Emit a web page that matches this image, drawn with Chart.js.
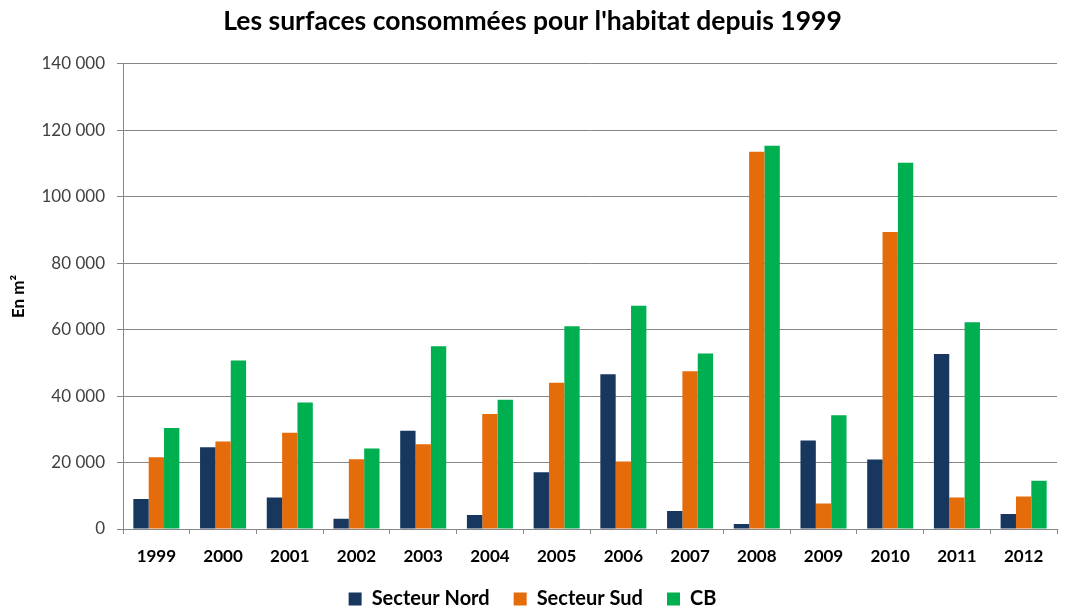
<!DOCTYPE html>
<html>
<head>
<meta charset="utf-8">
<script src="https://cdn.jsdelivr.net/npm/chart.js@4/dist/chart.umd.min.js"></script>
<style>
  body { margin: 0; background: #fff; }
</style>
</head>
<body>
<canvas id="myChart" width="1070" height="609"></canvas>
<script>
// surfaces consommées, en m², par année et par secteur
var years = ['1999','2000','2001','2002','2003','2004','2005','2006','2007','2008','2009','2010','2011','2012'];
var secteurNord = [9000, 24600, 9500, 3100, 29600, 4200, 17100, 46600, 5400, 1500, 26600, 20900, 52700, 4500];
var secteurSud = [21600, 26300, 29000, 21000, 25500, 34600, 44000, 20300, 47500, 113500, 7700, 89400, 9500, 9800];
var cb = [30400, 50700, 38100, 24200, 55000, 38900, 61000, 67200, 52800, 115300, 34200, 110200, 62200, 14500];

var font = "Lato, 'Open Sans', sans-serif";

//thousands separated by a space, like "140 000"
function spaced(v){
  return String(v).replace(/\B(?=(\d{3})+(?!\d))/g, ' ');
}

var ctx = document.getElementById("myChart");
var chart = new Chart(ctx, {
  type: 'bar',
  data: {
    labels: years,
    datasets: [{
      label: 'Secteur Nord',
      data: secteurNord,
      backgroundColor: '#17375E'
    },
    {
      label: 'Secteur Sud',
      data: secteurSud,
      backgroundColor: '#E46C0A'
    },
    {
      label: 'CB',
      data: cb,
      backgroundColor: '#00B050'
    }]
  },
  options: {
    responsive: false,
    animation: false,
    layout: { padding: { left: 8, right: 13, top: 0, bottom: 0 } },
    datasets: {
      bar: { categoryPercentage: 0.69, barPercentage: 1.0 }
    },
    plugins: {
      title: {
        display: true,
        text: "Les surfaces consommées pour l'habitat depuis 1999",
        color: '#000',
        font: { family: font, size: 26.5, weight: 'bold' },
        padding: { top: 6, bottom: 26 }
      },
      legend: {
        position: 'bottom',
        maxHeight: 44,
        labels: {
          color: '#000',
          font: { family: font, size: 20, weight: 'bold' },
          boxWidth: 13,
          boxHeight: 13,
          padding: 24
        }
      },
      tooltip: { enabled: false }
    },
    scales: {
      x: {
        afterFit: function(scale){ scale.height = 36; },
        grid: {
          offset: true,
          drawOnChartArea: false,
          drawTicks: true,
          tickLength: 5,
          color: '#868686'
        },
        border: { color: '#868686' },
        ticks: {
          color: '#000',
          font: { family: font, size: 17, weight: 'bold' },
          padding: 12
        }
      },
      y: {
        min: 0,
        max: 140000,
        // keeps the plot's left edge at x = 123
        afterFit: function(scale){ scale.width = 115; },
        grid: {
          color: '#868686',
          tickLength: 6
        },
        border: { color: '#868686' },
        ticks: {
          stepSize: 20000,
          color: '#404040',
          padding: 12,
          font: { family: font, size: 17 },
          callback: function(v){ return spaced(v); }
        },
        title: {
          display: true,
          text: 'En m²',
          color: '#000',
          font: { family: font, size: 17, weight: 'bold' },
          padding: 0
        }
      }
    }
  }
});
</script>
</body>
</html>
